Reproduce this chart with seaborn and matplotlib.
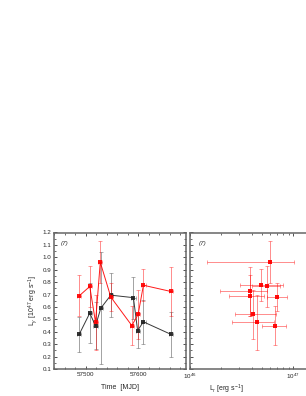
import numpy as np
import pandas as pd
import matplotlib
matplotlib.use("Agg")
import matplotlib.pyplot as plt
from matplotlib.ticker import MultipleLocator, FormatStrFormatter, LogLocator, NullFormatter
import seaborn as sns

# ---- data ----
mjd_black = [57488, 57508, 57519, 57529, 57548, 57591, 57599, 57610, 57662]
lg_black = [0.38, 0.55, 0.448, 0.59, 0.695, 0.675, 0.41, 0.48, 0.38]
lg_black_err = [0.14, 0.24, 0.19, 0.45, 0.175, 0.17, 0.14, 0.18, 0.183]

mjd_red = [57488, 57508, 57519, 57528, 57548, 57588, 57600, 57610, 57662]
lg_red = [0.69, 0.765, 0.475, 0.96, 0.68, 0.45, 0.54, 0.775, 0.725]
lg_red_err = [0.165, 0.163, 0.22, 0.17, 0.11, 0.155, 0.195, 0.128, 0.198]

mjd_err = [4, 4, 4, 4, 4, 4, 4, 4, 4]

# radio luminosity (log10) for the red points, with lower/upper bounds
log_lr = [46.581, 46.742, 46.652, 46.771, 46.842, 46.826, 46.613, 46.684, 46.578]
log_lr_lo = [46.381, 46.60, 46.41, 46.168, 46.742, 46.697, 46.436, 46.484, 46.29]
log_lr_hi = [46.716, 46.87, 46.813, 47.01, 46.942, 46.929, 46.833, 46.897, 46.749]

# ---- style ----
sns.set_style("ticks")
plt.rcParams['font.family'] = ['Liberation Sans', 'DejaVu Sans']
plt.rcParams['mathtext.fontset'] = 'custom'
plt.rcParams['mathtext.rm'] = 'Liberation Sans'
plt.rcParams['mathtext.it'] = 'Liberation Sans:italic'

W, H = 306, 396
fig = plt.figure(figsize=(W / 100, H / 100), dpi=100)
ax1 = fig.add_axes([54 / W, 27 / H, 132 / W, 136.5 / H])
ax2 = fig.add_axes([190 / W, 27 / H, 130 / W, 136.5 / H])

red = '#ff0000'

# ---- left panel: light curves ----
ax1.errorbar(mjd_black, lg_black, yerr=lg_black_err, xerr=mjd_err, fmt='none',
             ecolor='#555555', alpha=0.55, elinewidth=0.7, capsize=1.3, capthick=0.6)
ax1.errorbar(mjd_red, lg_red, yerr=lg_red_err, xerr=mjd_err, fmt='none',
             ecolor=red, alpha=0.45, elinewidth=0.7, capsize=1.3, capthick=0.6)
sns.lineplot(x=mjd_black, y=lg_black, ax=ax1, color='#222222', marker='s',
             markersize=3.2, markeredgewidth=0, linewidth=0.7, sort=False,
             estimator=None, alpha=0.9)
sns.lineplot(x=mjd_red, y=lg_red, ax=ax1, color=red, marker='s',
             markersize=3.2, markeredgewidth=0, linewidth=0.7, sort=False,
             estimator=None, alpha=0.9)

ax1.set_xlim(57440, 57691)
ax1.set_ylim(0.1, 1.2)
ax1.set_xticks([57500, 57600])
ax1.xaxis.set_minor_locator(MultipleLocator(20))
ax1.yaxis.set_major_locator(MultipleLocator(0.1))
ax1.yaxis.set_minor_locator(MultipleLocator(0.05))
ax1.yaxis.set_major_formatter(FormatStrFormatter('%.1f'))
ax1.set_xlabel('Time  [MJD]', fontsize=5, labelpad=5)
ax1.set_ylabel(r'L$_\gamma$ [10$^{47}$ erg s$^{-1}$]', fontsize=5, labelpad=2)
ax1.text(0.05, 0.94, '(7)', transform=ax1.transAxes, fontsize=4.5,
         style='italic', va='top', ha='left')

# ---- right panel: L_gamma vs L_r ----
lr = np.power(10.0, log_lr)
lr_lo = lr - np.power(10.0, log_lr_lo)
lr_hi = np.power(10.0, log_lr_hi) - lr
ax2.errorbar(lr, lg_red, yerr=lg_red_err, xerr=[lr_lo, lr_hi], fmt='none',
             ecolor=red, alpha=0.45, elinewidth=0.7, capsize=1.3, capthick=0.6)
sns.scatterplot(x=lr, y=lg_red, ax=ax2, color=red, marker='s', s=9,
                linewidth=0, alpha=0.95)

ax2.set_xscale('log')
ax2.set_xlim(1e46, 10 ** (46 + 130 / 103.3))
ax2.set_ylim(0.1, 1.2)
ax2.set_xticks([1e46, 1e47])
ax2.xaxis.set_minor_locator(LogLocator(base=10, subs=np.arange(2, 10)))
ax2.xaxis.set_minor_formatter(NullFormatter())
ax2.yaxis.set_major_locator(MultipleLocator(0.1))
ax2.yaxis.set_minor_locator(MultipleLocator(0.05))
ax2.tick_params(axis='y', labelleft=False)
ax2.set_xlabel(r'L$_r$ [erg s$^{-1}$]', fontsize=5, labelpad=5)
ax2.xaxis.set_label_coords(0.28, -0.1)
ax2.text(0.07, 0.94, '(7)', transform=ax2.transAxes, fontsize=4.5,
         style='italic', va='top', ha='left')

for ax in (ax1, ax2):
    ax.tick_params(which='both', direction='in', top=True, right=True,
                   labelsize=4.5, pad=2, color='#333333')
    ax.tick_params(which='major', length=2.2, width=0.6)
    ax.tick_params(which='minor', length=1.2, width=0.5)
    for sp in ax.spines.values():
        sp.set_color('#666666')
        sp.set_linewidth(1.1)
    ax.set_facecolor('white')

fig.savefig('out.png', dpi=100)
